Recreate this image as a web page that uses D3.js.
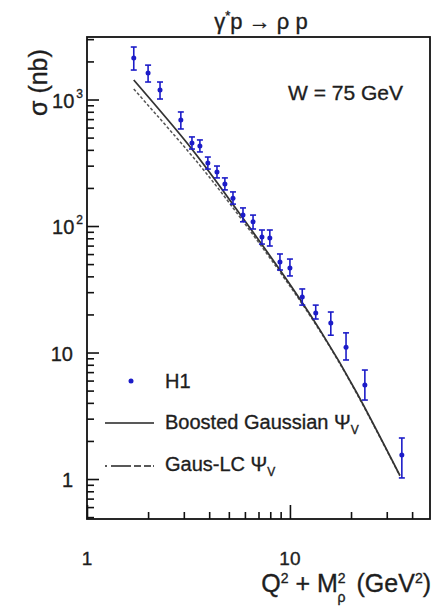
<!DOCTYPE html>
<html>
<head>
<meta charset="utf-8">
<script src="https://cdn.jsdelivr.net/npm/d3@7"></script>
<style>
  html, body { margin: 0; padding: 0; background: #fff; }
  svg { display: block; font-family: "Liberation Sans", Arial, sans-serif; }
  .t { fill: #1e1e1e; stroke: #1e1e1e; stroke-width: 0.35; }
</style>
</head>
<body>
<svg id="chart" width="435" height="611"></svg>
<script>
// ---- data ----
const q2m2 = [1.70, 2.00, 2.29, 2.90, 3.29, 3.60, 3.94, 4.37, 4.78, 5.24, 5.87, 6.58, 7.28, 7.96, 8.93, 10.0, 11.5, 13.4, 15.9, 18.9, 23.4, 35.6];
const sigmaH1 = [2130, 1620, 1190, 689, 453, 429, 315, 267, 215, 166, 122, 108, 81.8, 80.4, 51.9, 46.6, 27.5, 20.5, 17.1, 11.0, 5.53, 1.55];
const sigmaHi = [2600, 1870, 1375, 797, 506, 479, 351, 298, 240, 186, 139, 122, 93, 93, 60.1, 54.8, 31.8, 23.7, 20.9, 14.3, 7.27, 2.11];
const sigmaLo = [1710, 1375, 1009, 585, 406, 385, 282, 240, 193, 149, 108, 94.7, 72, 69.5, 44.9, 40.3, 23.7, 18.4, 13.7, 8.73, 4.21, 1.02];

const modelX = [1.70, 3.14, 5.06, 8.93, 14.05, 21.4, 34.8];
const boostedGaussian = [1426, 445, 160, 44.9, 15.1, 4.78, 1.07];
const gausLC = [1211, 392, 150, 43.3, 14.8, 4.70, 1.06];

const xMajorTicks = [1, 10];
const xTickLabels = ["1", "10"];
const xMinorTicks = [2, 3, 4, 5, 6, 7, 8, 9, 20, 30, 40];
const yMajorTicks = [1, 10, 100, 1000];
const yTickBase = ["1", "10", "10", "10"];
const yTickExp = ["", "", "2", "3"];
const yMinorTicks = [0.5, 0.6, 0.7, 0.8, 0.9, 2, 3, 4, 5, 6, 7, 8, 9, 20, 30, 40, 50, 60, 70, 80, 90,
                     200, 300, 400, 500, 600, 700, 800, 900, 2000, 3000];

// ---- layout ----
const svg = d3.select("#chart");
const L = 87, T = 37, R = 430, B = 519;
const x = d3.scaleLog().domain([1, 49]).range([L, R]);
const y = d3.scaleLog().domain([0.483, 3120]).range([B, T]);
const blue = "#1c1cc8";

svg.append("defs").append("clipPath").attr("id", "plotclip")
  .append("rect").attr("x", L).attr("y", T).attr("width", R - L).attr("height", B - T);

// axes (ticks pointing inside)
const gx = svg.append("g").attr("transform", `translate(0,${B})`);
gx.call(d3.axisBottom(x).tickValues(xMajorTicks).tickSize(-14).tickFormat(""));
const gxm = svg.append("g").attr("transform", `translate(0,${B})`);
gxm.call(d3.axisBottom(x).tickValues(xMinorTicks).tickSize(-7).tickFormat(""));
const gy = svg.append("g").attr("transform", `translate(${L},0)`);
gy.call(d3.axisLeft(y).tickValues(yMajorTicks).tickSize(-12).tickFormat(""));
const gym = svg.append("g").attr("transform", `translate(${L},0)`);
gym.call(d3.axisLeft(y).tickValues(yMinorTicks.filter(v => y(v) > T + 1 && y(v) < B - 1)).tickSize(-7).tickFormat(""));
[gx, gxm, gy, gym].forEach(g => {
  g.select(".domain").remove();
  g.selectAll(".tick line").attr("stroke", "#111").attr("stroke-width", 1.6);
});

svg.append("rect").attr("x", L).attr("y", T).attr("width", R - L).attr("height", B - T)
  .attr("fill", "none").attr("stroke", "#111").attr("stroke-width", 1.8);

// x tick labels
svg.append("g").selectAll("text").data(xMajorTicks).join("text").attr("class", "t")
  .attr("x", d => x(d)).attr("y", 565)
  .attr("text-anchor", "middle").attr("font-size", 19)
  .text((d, i) => xTickLabels[i]);

// y tick labels
const yl = svg.append("g").selectAll("text").data(yMajorTicks).join("text").attr("class", "t")
  .attr("x", 73).attr("y", d => y(d) + 8)
  .attr("text-anchor", "end").attr("font-size", 20);
yl.each(function(d, i) {
  const t = d3.select(this);
  t.append("tspan").text(yTickBase[i]);
  if (yTickExp[i]) t.append("tspan").attr("font-size", 12).attr("dy", -10).attr("dx", 2).text(yTickExp[i]);
});
yl.filter((d, i) => yTickExp[i]).attr("x", 83);

// y axis title
svg.append("text").attr("class", "t")
  .attr("transform", "translate(47,116) rotate(-90)")
  .attr("font-size", 25)
  .text("σ (nb)");

// plot title
const title = svg.append("text").attr("class", "t").attr("x", 261).attr("y", 29).attr("text-anchor", "middle")
  .attr("font-size", 22);
title.append("tspan").text("γ");
title.append("tspan").attr("font-size", 13).attr("dy", -9).text("*");
title.append("tspan").attr("dy", 9).text("p → ρ p");

// W label
svg.append("text").attr("class", "t").attr("x", 288).attr("y", 100).attr("font-size", 21)
  .text("W = 75 GeV");

// x axis title
const xt = svg.append("text").attr("class", "t").attr("x", 431).attr("y", 592).attr("text-anchor", "end")
  .attr("font-size", 25);
xt.append("tspan").text("Q");
xt.append("tspan").attr("font-size", 14).attr("dy", -9).text("2");
xt.append("tspan").attr("dy", 9).text(" + M");
xt.append("tspan").attr("font-size", 14).attr("dy", -9).text("2");
xt.append("tspan").attr("font-size", 14).attr("dy", 19).attr("dx", -8).text("ρ");
xt.append("tspan").attr("dy", -10).attr("dx", 4).text("  (GeV");
xt.append("tspan").attr("font-size", 14).attr("dy", -9).text("2");
xt.append("tspan").attr("dy", 9).text(")");

// model curves
const plot = svg.append("g").attr("clip-path", "url(#plotclip)");
const line = d3.line().x(d => x(d[0])).y(d => y(d[1])).curve(d3.curveNatural);
plot.append("path").datum(modelX.map((v, i) => [v, gausLC[i]]))
  .attr("d", line).attr("fill", "none").attr("stroke", "#555").attr("stroke-width", 1.5)
  .attr("stroke-dasharray", "3,2");
plot.append("path").datum(modelX.map((v, i) => [v, boostedGaussian[i]]))
  .attr("d", line).attr("fill", "none").attr("stroke", "#333").attr("stroke-width", 1.8);

// data points
const pts = q2m2.map((v, i) => ({ x: v, y: sigmaH1[i], hi: sigmaHi[i], lo: sigmaLo[i] }));
const pg = plot.append("g").attr("stroke", blue).attr("stroke-width", 1.6);
pg.selectAll("line.err").data(pts).join("line").attr("class", "err")
  .attr("x1", d => x(d.x)).attr("x2", d => x(d.x)).attr("y1", d => y(d.hi)).attr("y2", d => y(d.lo));
pg.selectAll("line.caphi").data(pts).join("line").attr("class", "caphi")
  .attr("x1", d => x(d.x) - 3).attr("x2", d => x(d.x) + 3).attr("y1", d => y(d.hi)).attr("y2", d => y(d.hi));
pg.selectAll("line.caplo").data(pts).join("line").attr("class", "caplo")
  .attr("x1", d => x(d.x) - 3).attr("x2", d => x(d.x) + 3).attr("y1", d => y(d.lo)).attr("y2", d => y(d.lo));
plot.append("g").selectAll("circle").data(pts).join("circle")
  .attr("cx", d => x(d.x)).attr("cy", d => y(d.y)).attr("r", 2.5).attr("fill", blue);

// legend
const lg = svg.append("g");
lg.append("circle").attr("cx", 131).attr("cy", 381).attr("r", 2.5).attr("fill", blue);
lg.append("text").attr("class", "t").attr("x", 165).attr("y", 388).attr("font-size", 20).text("H1");
lg.append("line").attr("x1", 105).attr("x2", 154).attr("y1", 423).attr("y2", 423)
  .attr("stroke", "#222").attr("stroke-width", 1.6);
const t2 = lg.append("text").attr("class", "t").attr("x", 165).attr("y", 429).attr("font-size", 20);
t2.append("tspan").text("Boosted Gaussian Ψ");
t2.append("tspan").attr("font-size", 12).attr("dy", 5).text("V");
lg.append("line").attr("x1", 105).attr("x2", 154).attr("y1", 466).attr("y2", 466)
  .attr("stroke", "#222").attr("stroke-width", 1.6).attr("stroke-dasharray", "2,4,20,3,7,3,7");
const t3 = lg.append("text").attr("class", "t").attr("x", 165).attr("y", 471).attr("font-size", 20);
t3.append("tspan").text("Gaus-LC Ψ");
t3.append("tspan").attr("font-size", 12).attr("dy", 5).text("V");
</script>
</body>
</html>
